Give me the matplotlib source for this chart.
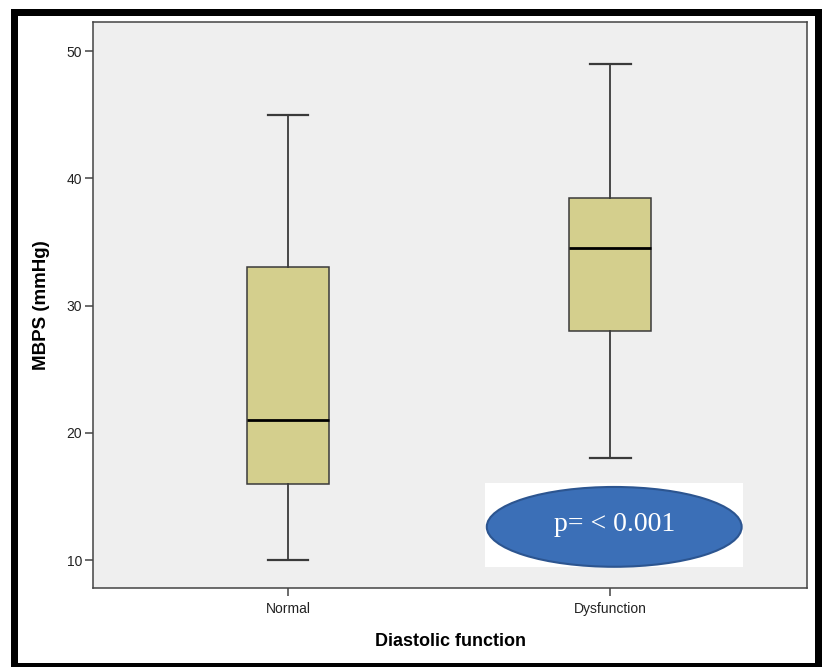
import matplotlib.pyplot as plt
from matplotlib.patches import Rectangle, Ellipse

# box plot values
groups = ["Normal", "Dysfunction"]
whis_low = [10, 18]
q1 = [16, 28]
median = [21, 34.5]
q3 = [33, 38.5]
whis_high = [45, 49]
p_text = "p= < 0.001"

plt.rcParams['font.family'] = ['Liberation Sans', 'DejaVu Sans']

fig = plt.figure(figsize=(8.22, 6.67), dpi=100)
ax = fig.add_axes([93/822, 1-588/667, 714/822, 566/667])
ax.set_facecolor('#efefef')

stats = []
for i in range(len(groups)):
    stats.append({'label': groups[i], 'whislo': whis_low[i], 'q1': q1[i],
                  'med': median[i], 'q3': q3[i], 'whishi': whis_high[i],
                  'fliers': []})

ax.bxp(stats, positions=[1, 2], widths=0.255, patch_artist=True,
       showfliers=False,
       boxprops=dict(facecolor='#d4cf8d', edgecolor='#3a3a3a', linewidth=1.1),
       medianprops=dict(color='black', linewidth=2.0),
       whiskerprops=dict(color='#3a3a3a', linewidth=1.3),
       capprops=dict(color='#3a3a3a', linewidth=1.6),
       capwidths=0.127)

ax.set_xlim(0.395, 2.61)
ax.set_ylim(7.8, 52.3)
ax.set_yticks([10, 20, 30, 40, 50])

for s in ax.spines.values():
    s.set_color('#444444')
    s.set_linewidth(1.1)
ax.tick_params(axis='both', length=6, width=1.1, color='#444444',
               labelsize=10, pad=2, labelcolor='#222222')
ax.tick_params(axis='x', pad=4)

ax.set_xlabel("Diastolic function", fontsize=13, fontweight='bold', labelpad=12)
ax.set_ylabel("MBPS (mmHg)", fontsize=13.5, fontweight='bold', labelpad=12)

# white box + blue ellipse with p value
ax.add_patch(Rectangle((0.549, 0.037), 0.361, 0.149, transform=ax.transAxes,
                       facecolor='white', edgecolor='none', zorder=5))
ax.add_patch(Ellipse((0.730, 0.108), 0.357, 0.141, transform=ax.transAxes,
                     facecolor='#3b6fb7', edgecolor='#2c5590', linewidth=1.5,
                     zorder=6))
ax.text(0.730, 0.112, p_text, transform=ax.transAxes, ha='center', va='center',
        color='white', fontsize=20, family=['Liberation Serif', 'DejaVu Serif'],
        zorder=7)

# thick black frame around the figure
fw, fh = 822, 667
for (x0, y0, w, h) in [(11, 9, 7, 658), (11, 9, 811, 7), (815, 9, 7, 658),
                       (11, 663, 811, 4)]:
    fig.patches.append(Rectangle((x0/fw, 1-(y0+h)/fh), w/fw, h/fh,
                                 transform=fig.transFigure, facecolor='black',
                                 edgecolor='none'))

fig.savefig('out.png', dpi=100)
